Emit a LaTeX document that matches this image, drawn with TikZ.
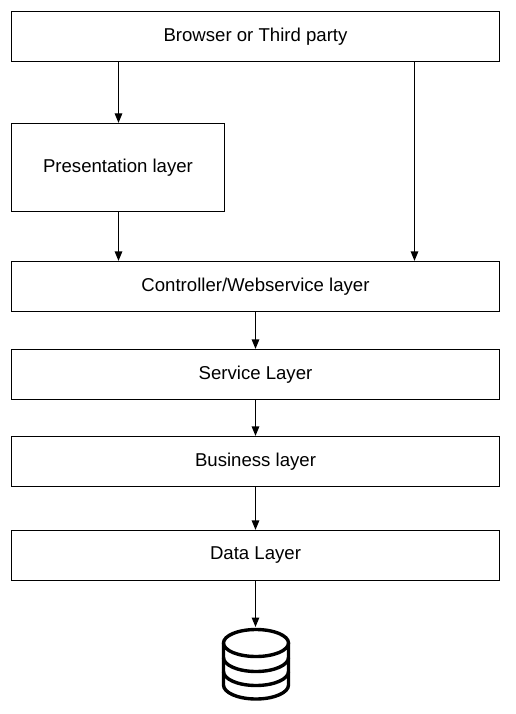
\documentclass[tikz,border=0pt]{standalone}
\usepackage{fontspec}
\setmainfont{Liberation Sans}
\usetikzlibrary{arrows.meta}
\tikzset{
  x=1pt,y=-1pt,
  layerbox/.style={draw=black,line width=1.2pt,fill=white,inner sep=0pt,font=\fontsize{18.6}{22}\selectfont},
  link/.style={draw=black,line width=1.2pt,-{Triangle[length=9.5pt,width=7.5pt]}},
  dbline/.style={draw=black,line width=3.4pt}
}
\begin{document}
\begin{tikzpicture}
\useasboundingbox (0,0) rectangle (516,714);
\node[layerbox,minimum width=488pt,minimum height=50pt] (browser) at (255.5,36.5) {\raisebox{2pt}{Browser or Third party}};
\node[layerbox,minimum width=213pt,minimum height=88pt] (pres) at (118,167.5) {\raisebox{2.5pt}{Presentation layer}};
\node[layerbox,minimum width=488pt,minimum height=50pt] (ctrl) at (255.5,286.5) {\raisebox{2pt}{Controller/Webservice layer}};
\node[layerbox,minimum width=488pt,minimum height=50pt] (svc) at (255.5,374.5) {\raisebox{2.5pt}{Service Layer}};
\node[layerbox,minimum width=488pt,minimum height=50pt] (biz) at (255.5,461.5) {\raisebox{2pt}{Business layer}};
\node[layerbox,minimum width=488pt,minimum height=50pt] (data) at (255.5,555.5) {\raisebox{1.2pt}{Data Layer}};
\coordinate (db) at (255.5,627);
\coordinate (lx) at (118.5,0);
\coordinate (rx) at (414.5,0);
\draw[link] (browser.south -| lx) -- (pres.north -| lx);
\draw[link] (browser.south -| rx) -- (ctrl.north -| rx);
\draw[link] (pres.south -| lx) -- (ctrl.north -| lx);
\draw[link] (ctrl.south) -- (svc.north);
\draw[link] (svc.south) -- (biz.north);
\draw[link] (biz.south) -- (data.north);
\draw[link] (data.south) -- (db);
\draw[dbline] (223.5,643) -- (223.5,685) arc[start angle=180,end angle=360,x radius=32.5pt,y radius=14pt] -- (288.5,643);
\draw[dbline] (256,643) ellipse[x radius=32.5pt,y radius=13.5pt];
\draw[dbline] (223.5,657.5) arc[start angle=180,end angle=360,x radius=32.5pt,y radius=14pt];
\draw[dbline] (223.5,671.5) arc[start angle=180,end angle=360,x radius=32.5pt,y radius=14pt];
\end{tikzpicture}
\end{document}
